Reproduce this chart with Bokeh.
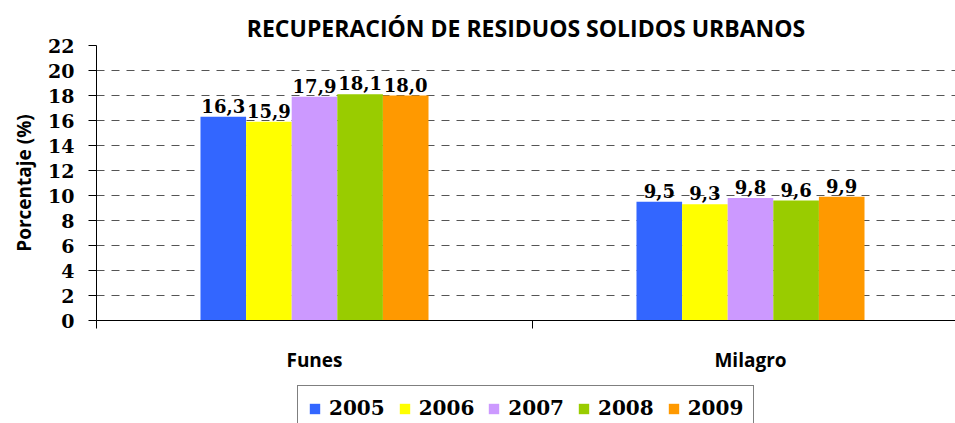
from bokeh.plotting import figure
from bokeh.layouts import column
from bokeh.models import ColumnDataSource, Range1d, FixedTicker, Legend, LegendItem
from bokeh.transform import dodge
from bokeh.core.properties import value
from bokeh.embed import file_html
from bokeh.resources import INLINE

categories = ["Funes", "Milagro"]
years = ["2005", "2006", "2007", "2008", "2009"]
v2005 = [16.3, 9.5]
v2006 = [15.9, 9.3]
v2007 = [17.9, 9.8]
v2008 = [18.1, 9.6]
v2009 = [18.0, 9.9]
colors = ["#3366FF", "#FFFF00", "#CC99FF", "#99CC00", "#FF9900"]
y_ticks = list(range(0, 23, 2))

series = [v2005, v2006, v2007, v2008, v2009]
centers = [i + 0.5 for i in range(len(categories))]
data = {"x": centers}
for y, vals in zip(years, series):
    data[y] = vals
    data["lbl" + y] = [f"{v:.1f}".replace(".", ",") for v in vals]
src = ColumnDataSource(data)

W, H, HL = 955, 385, 38
p = figure(width=W, height=H, output_backend="svg", toolbar_location=None,
           x_range=Range1d(0, 859 / 436), y_range=Range1d(0, 22),
           min_border_left=96, min_border_top=45, min_border_bottom=65,
           min_border_right=0)
p.outline_line_color = None
p.background_fill_color = "white"
p.border_fill_color = "white"

p.title.text = "RECUPERACIÓN DE RESIDUOS SOLIDOS URBANOS"
p.title.align = "center"
p.title.text_font = "Open Sans"
p.title.text_font_style = "bold"
p.title.text_font_size = "23px"
p.title.text_color = "black"
p.title.standoff = 4

bw = 0.1046
offsets = [-2 * bw, -bw, 0, bw, 2 * bw]
for y, c, off in zip(years, colors, offsets):
    p.vbar(x=dodge("x", off, range=p.x_range), top=y, width=bw, source=src,
           fill_color=c, line_color=None)
    p.text(x=dodge("x", off, range=p.x_range), y=y, text="lbl" + y, source=src,
           text_align="center", text_baseline="bottom", y_offset=-4,
           text_font=value("DejaVu Serif"), text_font_style="bold",
           text_font_size="18px", text_color="black")

# y axis
p.yaxis.ticker = FixedTicker(ticks=y_ticks)
p.yaxis.axis_label = "Porcentaje (%)"
p.yaxis.axis_label_text_font = "Open Sans"
p.yaxis.axis_label_text_font_style = "bold"
p.yaxis.axis_label_text_font_size = "19px"
p.yaxis.axis_label_text_color = "black"
p.yaxis.axis_label_standoff = 8
p.yaxis.major_label_text_font = "DejaVu Serif"
p.yaxis.major_label_text_font_style = "bold"
p.yaxis.major_label_text_font_size = "19px"
p.yaxis.major_label_text_color = "black"
p.yaxis.major_label_standoff = 14
p.yaxis.major_tick_out = 8
p.yaxis.major_tick_in = 0
p.yaxis.minor_tick_line_color = None
p.yaxis.axis_line_color = "black"
p.yaxis.major_tick_line_color = "black"

# x axis
p.xaxis.ticker = FixedTicker(ticks=centers, minor_ticks=[0, 1, 2])
p.xaxis.major_label_overrides = {c: n for c, n in zip(centers, categories)}
p.xaxis.major_tick_line_color = None
p.xaxis.major_tick_out = 0
p.xaxis.major_tick_in = 0
p.xaxis.minor_tick_out = 8
p.xaxis.minor_tick_in = 0
p.xaxis.minor_tick_line_color = "black"
p.xaxis.major_label_standoff = 18
p.xaxis.major_label_text_font = "Open Sans"
p.xaxis.major_label_text_font_style = "bold"
p.xaxis.major_label_text_font_size = "19px"
p.xaxis.major_label_text_color = "black"
p.xaxis.axis_line_color = "black"

p.xgrid.grid_line_color = None
p.ygrid.grid_line_color = "#555555"
p.ygrid.grid_line_dash = "8 7"
p.ygrid.grid_line_width = 1

# legend strip below the chart (proxy renderers sit outside the visible range)
lf = figure(width=W, height=HL, output_backend="svg", toolbar_location=None,
            x_range=Range1d(0, 1), y_range=Range1d(0, 1),
            min_border=0, x_axis_location=None, y_axis_location=None)
lf.outline_line_color = None
lf.grid.grid_line_color = None
lf.background_fill_color = "white"
lf.border_fill_color = "white"
items = []
for y, c in zip(years, colors):
    r = lf.vbar(x=[-5], top=[-5], bottom=[-6], width=0.1, fill_color=c, line_color=None)
    items.append(LegendItem(label=y, renderers=[r]))

legend = Legend(items=items, orientation="horizontal", location=(201, -8))
legend.label_text_font = "DejaVu Serif"
legend.label_text_font_style = "bold"
legend.label_text_font_size = "20px"
legend.label_text_color = "black"
legend.label_height = 20
legend.glyph_width = 13
legend.glyph_height = 13
legend.label_standoff = 8
legend.spacing = 13
legend.padding = 10
legend.margin = 0
legend.border_line_color = "black"
legend.border_line_width = 1
legend.background_fill_color = "white"
legend.background_fill_alpha = 1
lf.add_layout(legend)

layout = column(p, lf, spacing=0)
open("out.html", "w").write(file_html(layout, INLINE))
